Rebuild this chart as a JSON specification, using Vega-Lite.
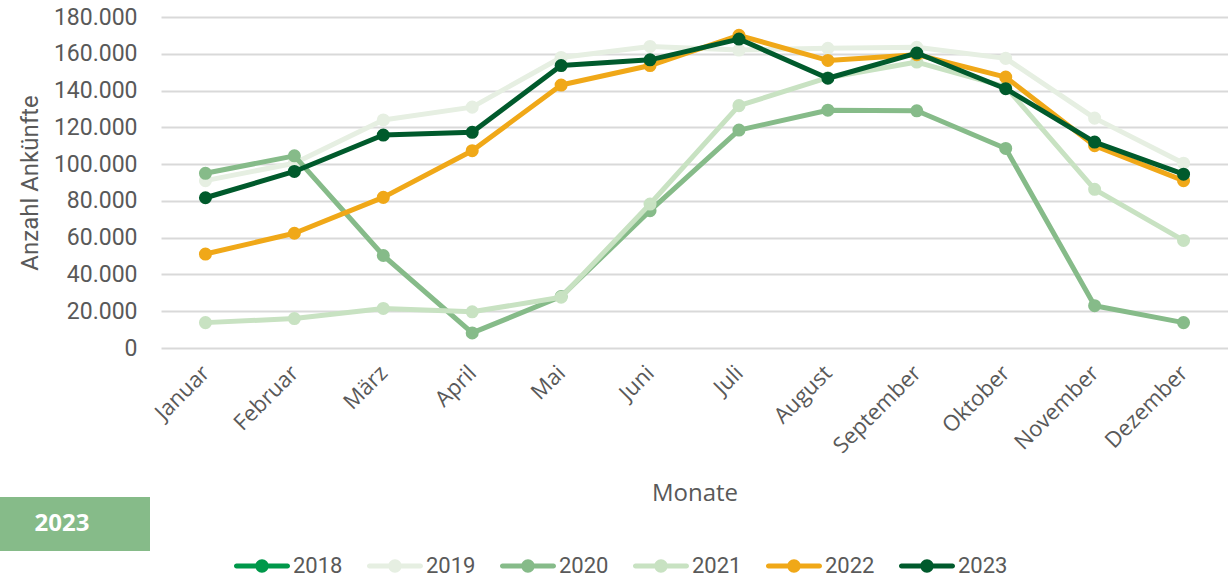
{
  "$schema": "https://vega.github.io/schema/vega-lite/v6.json",
  "background": "white",
  "padding": {"left": 0, "top": 6, "right": 0, "bottom": 0},
  "spacing": {"row": 149, "column": 11},
  "columns": 2,
  "bounds": "flush",
  "config": {"view": {"stroke": null}, "font": "Roboto"},
  "datasets": {
    "arrivals": [
      {"year": "2019", "month": "Januar", "value": 91000},
      {"year": "2019", "month": "Februar", "value": 100500},
      {"year": "2019", "month": "März", "value": 124000},
      {"year": "2019", "month": "April", "value": 131000},
      {"year": "2019", "month": "Mai", "value": 158000},
      {"year": "2019", "month": "Juni", "value": 164000},
      {"year": "2019", "month": "Juli", "value": 162000},
      {"year": "2019", "month": "August", "value": 163000},
      {"year": "2019", "month": "September", "value": 163500},
      {"year": "2019", "month": "Oktober", "value": 157500},
      {"year": "2019", "month": "November", "value": 125000},
      {"year": "2019", "month": "Dezember", "value": 100500},
      {"year": "2020", "month": "Januar", "value": 95000},
      {"year": "2020", "month": "Februar", "value": 104500},
      {"year": "2020", "month": "März", "value": 50300},
      {"year": "2020", "month": "April", "value": 8200},
      {"year": "2020", "month": "Mai", "value": 28000},
      {"year": "2020", "month": "Juni", "value": 74700},
      {"year": "2020", "month": "Juli", "value": 118500},
      {"year": "2020", "month": "August", "value": 129300},
      {"year": "2020", "month": "September", "value": 129000},
      {"year": "2020", "month": "Oktober", "value": 108500},
      {"year": "2020", "month": "November", "value": 23000},
      {"year": "2020", "month": "Dezember", "value": 13800},
      {"year": "2021", "month": "Januar", "value": 13800},
      {"year": "2021", "month": "Februar", "value": 16000},
      {"year": "2021", "month": "März", "value": 21500},
      {"year": "2021", "month": "April", "value": 19700},
      {"year": "2021", "month": "Mai", "value": 27600},
      {"year": "2021", "month": "Juni", "value": 78300},
      {"year": "2021", "month": "Juli", "value": 131800},
      {"year": "2021", "month": "August", "value": 147000},
      {"year": "2021", "month": "September", "value": 155500},
      {"year": "2021", "month": "Oktober", "value": 142000},
      {"year": "2021", "month": "November", "value": 86300},
      {"year": "2021", "month": "Dezember", "value": 58500},
      {"year": "2022", "month": "Januar", "value": 51100},
      {"year": "2022", "month": "Februar", "value": 62400},
      {"year": "2022", "month": "März", "value": 81900},
      {"year": "2022", "month": "April", "value": 107300},
      {"year": "2022", "month": "Mai", "value": 143000},
      {"year": "2022", "month": "Juni", "value": 153600},
      {"year": "2022", "month": "Juli", "value": 170000},
      {"year": "2022", "month": "August", "value": 156400},
      {"year": "2022", "month": "September", "value": 159500},
      {"year": "2022", "month": "Oktober", "value": 147300},
      {"year": "2022", "month": "November", "value": 110000},
      {"year": "2022", "month": "Dezember", "value": 91000},
      {"year": "2023", "month": "Januar", "value": 81700},
      {"year": "2023", "month": "Februar", "value": 96000},
      {"year": "2023", "month": "März", "value": 115800},
      {"year": "2023", "month": "April", "value": 117300},
      {"year": "2023", "month": "Mai", "value": 153600},
      {"year": "2023", "month": "Juni", "value": 156700},
      {"year": "2023", "month": "Juli", "value": 168000},
      {"year": "2023", "month": "August", "value": 146700},
      {"year": "2023", "month": "September", "value": 160400},
      {"year": "2023", "month": "Oktober", "value": 141000},
      {"year": "2023", "month": "November", "value": 112000},
      {"year": "2023", "month": "Dezember", "value": 94500}
    ]
  },
  "concat": [
    {
      "width": 150,
      "height": 331,
      "data": {"values": [{"label": ""}]},
      "mark": {"type": "text", "opacity": 0},
      "encoding": {"text": {"field": "label"}}
    },
    {
      "width": 1067,
      "height": 331,
      "data": {"name": "arrivals"},
      "encoding": {
        "x": {
          "field": "month",
          "type": "ordinal",
          "sort": ["Januar", "Februar", "März", "April", "Mai", "Juni", "Juli", "August", "September", "Oktober", "November", "Dezember"],
          "axis": {
            "title": "Monate",
            "labelAngle": -45,
            "labelAlign": "right",
            "labelBaseline": "middle",
            "labelFont": "Open Sans",
            "labelFontSize": 22,
            "labelColor": "#595959",
            "labelPadding": 21,
            "ticks": false,
            "domain": false,
            "grid": false,
            "titleFont": "Open Sans",
            "titleFontSize": 24,
            "titleFontWeight": "normal",
            "titleColor": "#595959",
            "titlePadding": 25
          }
        },
        "y": {
          "field": "value",
          "type": "quantitative",
          "scale": {"domain": [0, 180000], "nice": false, "zero": true},
          "axis": {
            "values": [0, 20000, 40000, 60000, 80000, 100000, 120000, 140000, 160000, 180000],
            "labelExpr": "replace(format(datum.value, ','), ',', '.')",
            "title": "Anzahl Ankünfte",
            "titleFont": "Roboto",
            "titleFontSize": 24,
            "titleFontWeight": "normal",
            "titleColor": "#595959",
            "titlePadding": 11,
            "labelFont": "Roboto",
            "labelFontSize": 23,
            "labelColor": "#595959",
            "labelPadding": 24,
            "ticks": false,
            "domain": false,
            "grid": true,
            "gridColor": "#d9d9d9",
            "gridWidth": 2
          }
        },
        "color": {
          "field": "year",
          "type": "nominal",
          "scale": {
            "domain": ["2018", "2019", "2020", "2021", "2022", "2023"],
            "range": ["#00984a", "#e6efe2", "#86bb89", "#c8e2c2", "#f0a818", "#005a2c"]
          },
          "legend": {
            "title": null,
            "orient": "none",
            "legendX": 234,
            "legendY": 521,
            "direction": "horizontal",
            "columns": 6,
            "symbolType": "M-0.91,-0.09 L0.91,-0.09 A0.09,0.09 0 0,1 0.91,0.09 L-0.91,0.09 A0.09,0.09 0 0,1 -0.91,-0.09 Z M-0.24,0 A0.24,0.24 0 1,1 0.24,0 A0.24,0.24 0 1,1 -0.24,0 Z",
            "symbolSize": 3136,
            "symbolStrokeWidth": 0,
            "symbolOpacity": 1,
            "labelFont": "Roboto",
            "labelFontSize": 22,
            "labelColor": "#595959",
            "labelOffset": 3,
            "columnPadding": 24
          }
        }
      },
      "layer": [
        {"transform": [{"filter": "datum.year == '2019'"}], "layer": [
          {"mark": {"type": "line", "strokeWidth": 5, "strokeJoin": "round", "strokeCap": "round"}},
          {"mark": {"type": "point", "filled": true, "opacity": 1, "size": 170}}
        ]},
        {"transform": [{"filter": "datum.year == '2020'"}], "layer": [
          {"mark": {"type": "line", "strokeWidth": 5, "strokeJoin": "round", "strokeCap": "round"}},
          {"mark": {"type": "point", "filled": true, "opacity": 1, "size": 170}}
        ]},
        {"transform": [{"filter": "datum.year == '2021'"}], "layer": [
          {"mark": {"type": "line", "strokeWidth": 5, "strokeJoin": "round", "strokeCap": "round"}},
          {"mark": {"type": "point", "filled": true, "opacity": 1, "size": 170}}
        ]},
        {"transform": [{"filter": "datum.year == '2022'"}], "layer": [
          {"mark": {"type": "line", "strokeWidth": 5, "strokeJoin": "round", "strokeCap": "round"}},
          {"mark": {"type": "point", "filled": true, "opacity": 1, "size": 170}}
        ]},
        {"transform": [{"filter": "datum.year == '2023'"}], "layer": [
          {"mark": {"type": "line", "strokeWidth": 5, "strokeJoin": "round", "strokeCap": "round"}},
          {"mark": {"type": "point", "filled": true, "opacity": 1, "size": 170}}
        ]}
      ]
    },
    {
      "width": 150,
      "height": 54,
      "data": {"values": [{"label": "2023"}]},
      "layer": [
        {
          "mark": {"type": "rect", "color": "#86bb89"},
          "encoding": {
            "x": {"field": "label", "type": "nominal", "scale": {"type": "band", "paddingInner": 0, "paddingOuter": 0}, "axis": null}
          }
        },
        {
          "mark": {"type": "text", "color": "white", "font": "Open Sans", "fontSize": 24, "fontWeight": "bold", "dx": -13},
          "encoding": {
            "x": {"field": "label", "type": "nominal", "axis": null},
            "text": {"field": "label"}
          }
        }
      ]
    }
  ]
}
